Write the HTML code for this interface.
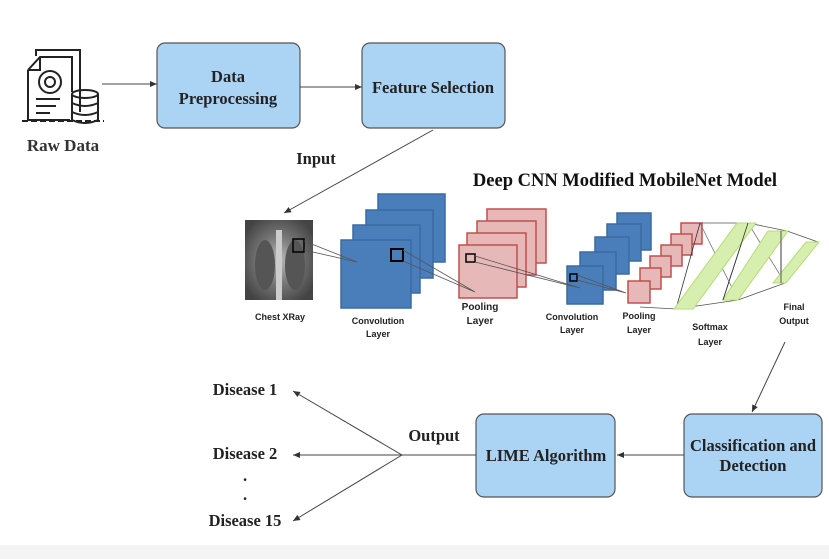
<!DOCTYPE html>
<html><head><meta charset="utf-8"><style>
body{margin:0;background:#fff;}
svg{display:block;font-family:"Liberation Serif",serif;font-weight:bold;}
.s{font-family:"Liberation Sans",sans-serif;font-size:9px;font-weight:bold;fill:#222}
</style></head><body>
<svg width="829" height="559" viewBox="0 0 829 559">
<defs>
<marker id="a" markerWidth="8" markerHeight="8" refX="7" refY="4" orient="auto" markerUnits="userSpaceOnUse"><path d="M0,1 L7,4 L0,7 z" fill="#333"/></marker>
</defs>
<rect x="0" y="545" width="829" height="14" fill="#f4f4f4"/>
<!-- raw data icon -->
<g fill="none" stroke="#222" stroke-width="2">
<path d="M36,56 L36,50 L80,50 L80,112"/>
<path d="M28,70 L40,57 L72,57 L72,92 M28,70 L28,120 L70,120 M28,70 L40,70 L40,57"/>
<circle cx="50" cy="82" r="11"/><circle cx="50" cy="82" r="5"/>
<path d="M36,99 L60,99 M36,106 L56,106 M36,113 L50,113"/>
<ellipse cx="85" cy="94" rx="13" ry="4"/>
<path d="M72,94 L72,120 Q85,126 98,120 L98,94 M72,103 Q85,109 98,103 M72,112 Q85,118 98,112"/>
<path d="M22,121 L104,121" stroke-dasharray="6 3"/>
</g>
<text x="63" y="151" font-size="17" text-anchor="middle" fill="#333">Raw Data</text>
<!-- boxes -->
<g fill="#abd3f4" stroke="#555" stroke-width="1.2">
<rect x="157" y="43" width="143" height="85" rx="8"/>
<rect x="362" y="43" width="143" height="85" rx="8"/>
<rect x="476" y="414" width="139" height="83" rx="8"/>
<rect x="684" y="414" width="138" height="83" rx="8"/>
</g>
<g font-size="16.5" fill="#222" text-anchor="middle">
<text x="228" y="82">Data</text><text x="228" y="104">Preprocessing</text>
<text x="433" y="93">Feature Selection</text>
<text x="546" y="461">LIME Algorithm</text>
<text x="753" y="451">Classification and</text><text x="753" y="471">Detection</text>
<text x="316" y="164">Input</text>
<text x="434" y="441">Output</text>
<text x="245" y="395">Disease 1</text>
<text x="245" y="459">Disease 2</text>
<text x="245" y="526">Disease 15</text>
<text x="245" y="481">.</text><text x="245" y="500">.</text>
<text x="625" y="186" font-size="18.5" fill="#111">Deep CNN Modified MobileNet Model</text>
</g>
<!-- arrows -->
<g stroke="#444" stroke-width="1" fill="none" marker-end="url(#a)">
<path d="M102,84 L157,84"/>
<path d="M300,87 L362,87"/>
<path d="M433,130 L284,213"/>
<path d="M785,342 L752,412"/>
<path d="M684,455 L617,455"/>
<path d="M402,455 L293,391"/>
<path d="M402,455 L293,455"/>
<path d="M402,455 L293,521"/>
</g>
<path d="M476,455 L402,455" stroke="#444"/>
<!-- xray -->
<defs><radialGradient id="x" cx="50%" cy="50%" r="60%"><stop offset="0" stop-color="#bbb"/><stop offset="0.5" stop-color="#777"/><stop offset="1" stop-color="#444"/></radialGradient></defs>
<rect x="245" y="220" width="68" height="80" fill="url(#x)"/>
<ellipse cx="265" cy="265" rx="10" ry="25" fill="#555"/><ellipse cx="295" cy="265" rx="10" ry="25" fill="#555"/>
<rect x="276" y="230" width="6" height="70" fill="#ccc"/>
<rect x="293" y="239" width="11" height="13" fill="none" stroke="#000" stroke-width="1.5"/>
<g class="s" text-anchor="middle">
<text x="280" y="320">Chest XRay</text>
<text x="378" y="324">Convolution</text><text x="378" y="337">Layer</text>
<text x="480" y="310" font-size="10">Pooling</text><text x="480" y="324" font-size="10">Layer</text>
<text x="572" y="320">Convolution</text><text x="572" y="333">Layer</text>
<text x="639" y="319">Pooling</text><text x="639" y="333">Layer</text>
<text x="710" y="330">Softmax</text><text x="710" y="345">Layer</text>
<text x="794" y="310">Final</text><text x="794" y="324">Output</text>
</g>
<!-- blue stack -->
<g fill="#4a7ebb" stroke="#3b6aa0" stroke-width="1.5">
<rect x="378" y="194" width="67" height="68"/>
<rect x="366" y="210" width="67" height="68"/>
<rect x="353" y="225" width="67" height="68"/>
<rect x="341" y="240" width="70" height="68"/>
</g>
<rect x="391" y="249" width="12" height="12" fill="none" stroke="#000" stroke-width="2"/>
<!-- pink stack -->
<g fill="#e6b9b8" stroke="#c0504d" stroke-width="1.5">
<rect x="487" y="209" width="59" height="54"/>
<rect x="477" y="221" width="59" height="54"/>
<rect x="467" y="233" width="59" height="54"/>
<rect x="459" y="245" width="58" height="53"/>
</g>
<rect x="466" y="254" width="9" height="8" fill="none" stroke="#000" stroke-width="1.5"/>
<!-- small blue -->
<g fill="#4a7ebb" stroke="#3b6aa0" stroke-width="1.5">
<rect x="617" y="213" width="34" height="37"/>
<rect x="607" y="224" width="34" height="37"/>
<rect x="595" y="237" width="34" height="37"/>
<rect x="580" y="252" width="36" height="38"/>
<rect x="567" y="266" width="36" height="38"/>
</g>
<rect x="570" y="274" width="7" height="7" fill="none" stroke="#000" stroke-width="1.5"/>
<!-- small pink -->
<g fill="#e6b9b8" stroke="#c0504d" stroke-width="1.5">
<rect x="681" y="223" width="21" height="21"/>
<rect x="671" y="234" width="21" height="21"/>
<rect x="661" y="245" width="21" height="21"/>
<rect x="650" y="256" width="21" height="21"/>
<rect x="640" y="268" width="21" height="21"/>
<rect x="628" y="281" width="22" height="22"/>
</g>
<!-- connection lines -->
<g stroke="#555" stroke-width="0.8" fill="none">
<path d="M304,241 L357,262 M304,250 L357,262"/>
<path d="M403,250 L475,292 M403,261 L475,292"/>
<path d="M475,256 L580,288 M475,262 L580,288"/>
<path d="M577,275 L626,293 M577,280 L626,293"/>
<path d="M700,223 L748,223 L787,231 L818,242 M640,307 L676,309 L738,300 L785,283"/>
<path d="M700,223 L738,300 M676,309 L748,223 M748,223 L785,283 M738,300 L787,231" stroke="#777"/>
<path d="M700,223 L676,309 M748,223 L723,300 M781,231 L781,283" stroke="#333"/>
</g>
<g fill="#d6efae" stroke="#b5dc76" stroke-width="1">
<path d="M737,223 L756,223 L693,309 L674,309 z"/>
<path d="M768,231 L788,231 L738,300 L723,300 z"/>
<path d="M806,242 L819,242 L786,283 L773,283 z"/>
</g>
<path d="M748,223 L723,300 M781,231 L781,283" stroke="#333" stroke-width="0.8"/>
</svg>
</body></html>
